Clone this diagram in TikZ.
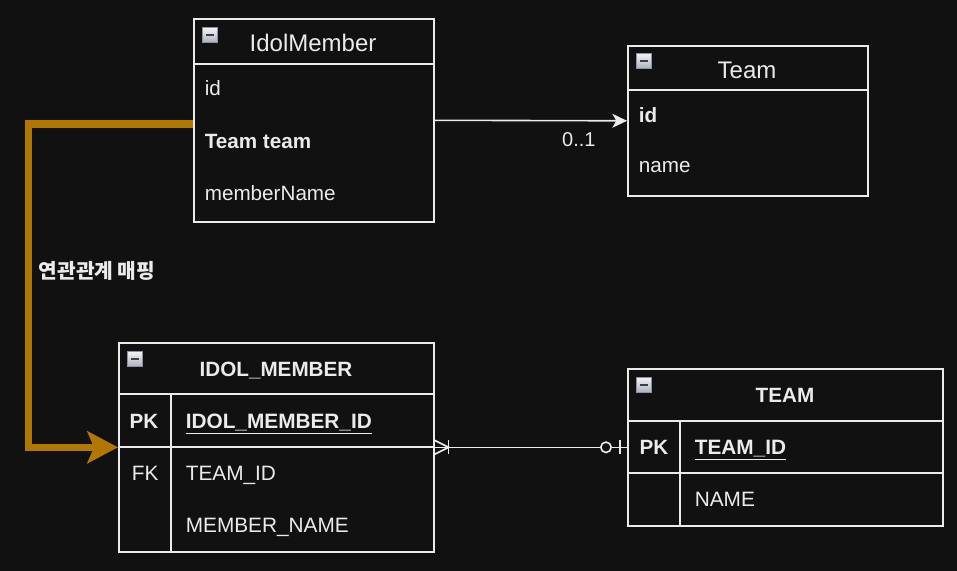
\documentclass[tikz,border=0pt]{standalone}
\usepackage{fontspec}
\setmainfont{Liberation Sans}
\newfontfamily\kofont{Noto Sans CJK KR}
\usetikzlibrary{arrows.meta,calc,positioning}
\definecolor{bgdark}{HTML}{111111}
\definecolor{lineclr}{HTML}{EBEBEB}
\definecolor{mapclr}{HTML}{B07800}
\definecolor{iconedge}{HTML}{8A92A4}

\begin{document}
\begin{tikzpicture}[x=0.75pt,y=-0.75pt,line width=1.2pt,
  every node/.style={text=lineclr},
  box/.style={draw=lineclr,anchor=north west,inner sep=0pt},
  sep/.style={draw=lineclr},
  fld/.style={anchor=west,inner sep=0pt,font=\fontsize{15.5}{18}\selectfont},
  col/.style={anchor=west,inner sep=0pt,text height=11.2pt,text depth=0pt,font=\fontsize{15.6}{18}\selectfont},
  hdr/.style={inner sep=0pt,font=\fontsize{18}{21}\selectfont},
  tbl/.style={inner sep=0pt,text height=11.1pt,text depth=0pt,font=\fontsize{15.5}{18}\selectfont\bfseries},
  icon/.style={draw=iconedge,line width=0.6pt,top color=white!90!iconedge,bottom color=iconedge!70,
    minimum width=11.5pt,minimum height=11pt,inner sep=0pt,anchor=north west,
    path picture={\draw[black!75,line width=1.4pt]
      ([xshift=2.6pt]path picture bounding box.west) -- ([xshift=-2.6pt]path picture bounding box.east);}},
  >=Stealth]

  \fill[bgdark] (0,0) rectangle (957,571);

  % class boxes
  \node[box,minimum width=180pt,minimum height=152.25pt] (idolmember) at (193,18) {};
  \node[box,minimum width=180pt,minimum height=112.5pt]  (team)       at (627,45) {};
  \draw[sep] (193,64) -- (433,64);
  \draw[sep] (627,90) -- (867,90);
  \node[icon] (imicon) at (202,27) {};
  \node[icon] (tmicon) at (636,53) {};

  \node[hdr] (imtitle) at (313,43) {IdolMember};
  \node[fld] (imid)   at (204,88)  {id};
  \node[fld,font=\fontsize{15.5}{18}\selectfont\bfseries] (imteam) at (204,141) {Team team};
  \node[fld] (imname) at (204,193) {memberName};

  \node[hdr] (tmtitle) at (747,70) {Team};
  \node[fld,font=\fontsize{15.5}{18}\selectfont\bfseries] (tmid) at (638,115) {id};
  \node[fld] (tmname) at (638,167) {name};

  % tables
  \node[box,minimum width=236.25pt,minimum height=156.75pt] (memtbl)  at (118,342) {};
  \node[box,minimum width=236.25pt,minimum height=117.75pt] (teamtbl) at (627,368) {};
  \draw[sep] (118,394) -- (433,394);
  \draw[sep] (118,447) -- (433,447);
  \draw[sep] (171,394) -- (171,551);
  \draw[sep] (627,421) -- (942,421);
  \draw[sep] (627,473) -- (942,473);
  \draw[sep] (680,421) -- (680,525);
  \node[icon] (mticon) at (127,351) {};
  \node[icon] (tticon) at (636,377) {};

  \node[tbl] (mttitle) at (276,369) {IDOL\_MEMBER};
  \node[tbl] (mtpk)    at (144,421) {PK};
  \node[col,font=\fontsize{15.6}{18}\selectfont\bfseries] (mtid) at (185,421) {\underline{IDOL\_MEMBER\_ID}};
  \node[col] (mtfk)    at (131,473) {FK};
  \node[col] (mtteam)  at (185,473) {TEAM\_ID};
  \node[col] (mtname)  at (185,525) {MEMBER\_NAME};

  \node[tbl] (tttitle) at (785,395) {TEAM};
  \node[tbl] (ttpk)    at (654,447) {PK};
  \node[col,font=\fontsize{15.6}{18}\selectfont\bfseries] (ttid) at (694,447) {\underline{TEAM\_ID}};
  \node[col] (ttname)  at (694,499) {NAME};

  % association
  \draw[->,lineclr,>={Stealth[length=11pt,width=10.5pt,inset=3pt]}] (idolmember.east) -- (team.west)
    node[pos=0.75,below=5pt,font=\fontsize{15}{18}\selectfont] (mult) {0..1};

  % mapping arrow
  \coordinate (mapstart) at (193,124);
  \draw[mapclr,line width=5.5pt,-{Stealth[length=23pt,width=24pt,inset=5pt]}]
    (mapstart) -- (28.5,124) |- (memtbl.west);
  \node[font=\kofont\bfseries\fontsize{15.2}{18}\selectfont] (maplabel) at (97,271) {연관관계 매핑};

  % relation
  \draw[lineclr] (memtbl.east) -- (teamtbl.west);
  \draw[lineclr] ($(memtbl.east)+(0,-7)$) -- ($(memtbl.east)+(14,0)$) -- ($(memtbl.east)+(0,7)$);
  \draw[lineclr] ($(memtbl.east)+(14,-7)$) -- ($(memtbl.east)+(14,7)$);
  \draw[lineclr,fill=bgdark] ($(teamtbl.west)+(-21,0)$) circle[radius=3.9pt];
  \draw[lineclr] ($(teamtbl.west)+(-7,-7)$) -- ($(teamtbl.west)+(-7,7)$);
\end{tikzpicture}
\end{document}
